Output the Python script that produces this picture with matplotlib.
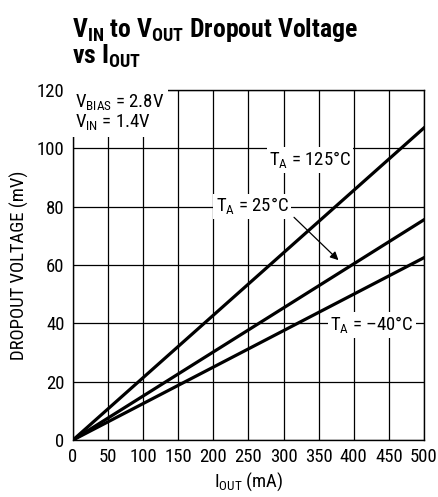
import numpy as np
import matplotlib
matplotlib.use('Agg')
from matplotlib import pyplot as plt
from matplotlib import font_manager

# Pick a narrow sans face like the datasheet's Helvetica Condensed
names = set(f.name for f in font_manager.fontManager.ttflist)
narrow = 'DejaVu Sans'
for cand in ['Roboto Condensed', 'Archivo Narrow', 'Liberation Sans Narrow']:
    if cand in names:
        narrow = cand
        break

plt.rcParams['font.family'] = [narrow, 'DejaVu Sans']
plt.rcParams['font.stretch'] = 'condensed'
plt.rcParams['mathtext.fontset'] = 'custom'
plt.rcParams['mathtext.rm'] = narrow + ':stretch=condensed'
plt.rcParams['mathtext.bf'] = narrow + ':bold:stretch=condensed'

# Dropout voltage curves (mV) vs output current (mA)
i_out = [0, 100, 200, 300, 400, 500]
v_125 = [0, 21.4, 42.8, 64.2, 85.6, 107]
v_25 = [0, 15.1, 30.2, 45.3, 60.4, 75.5]
v_m40 = [0, 12.5, 25.0, 37.5, 50.0, 62.5]

x_ticks = [0, 50, 100, 150, 200, 250, 300, 350, 400, 450, 500]
y_ticks = [0, 20, 40, 60, 80, 100, 120]

fs = 13.5
fig = plt.figure(figsize=(4.38, 4.97), dpi=100)
ax = fig.add_axes([0.1667, 0.1147, 0.8013, 0.7043])

ax.set_xlim(0, 500)
ax.set_ylim(0, 120)
ax.set_xticks(x_ticks)
ax.set_yticks(y_ticks)
ax.grid(True, color='black', linewidth=0.9)
ax.tick_params(length=0, labelsize=fs, pad=6)
for s in ax.spines.values():
    s.set_linewidth(1.0)

for v in (v_125, v_25, v_m40):
    ax.plot(i_out, v, color='black', linewidth=2.3, zorder=3)

box = dict(facecolor='white', edgecolor='none', pad=1.5)
ax.text(338, 96, r'T$_\mathrm{A}$ = 125°C', fontsize=fs, ha='center', va='center', bbox=box, zorder=4)
ax.text(255, 80, r'T$_\mathrm{A}$ = 25°C', fontsize=fs, ha='center', va='center', bbox=box, zorder=4)
ax.text(426, 39.4, r'T$_\mathrm{A}$ = –40°C', fontsize=fs, ha='center', va='center', bbox=box, zorder=4)
ax.annotate('', xy=(381, 61), xytext=(312, 77),
            arrowprops=dict(arrowstyle='-|>', color='black', lw=0.9, mutation_scale=12), zorder=5)

ax.text(3, 119, 'V$_\\mathrm{BIAS}$ = 2.8V\nV$_\\mathrm{IN}$ = 1.4V', fontsize=fs, ha='left', va='top',
        linespacing=1.0, bbox=dict(facecolor='white', edgecolor='none', pad=2.5), zorder=4)

ax.set_xlabel(r'I$_\mathrm{OUT}$ (mA)', fontsize=fs, labelpad=3)
ax.set_ylabel('DROPOUT VOLTAGE (mV)', fontsize=fs, labelpad=6)

fig.text(0.164, 0.968, r'V$_\mathbf{IN}$ to V$_\mathbf{OUT}$ Dropout Voltage' + '\n' + r'vs I$_\mathbf{OUT}$',
         fontsize=18.5, fontweight='bold', ha='left', va='top', linespacing=0.95)

fig.savefig('out.png', dpi=100)
